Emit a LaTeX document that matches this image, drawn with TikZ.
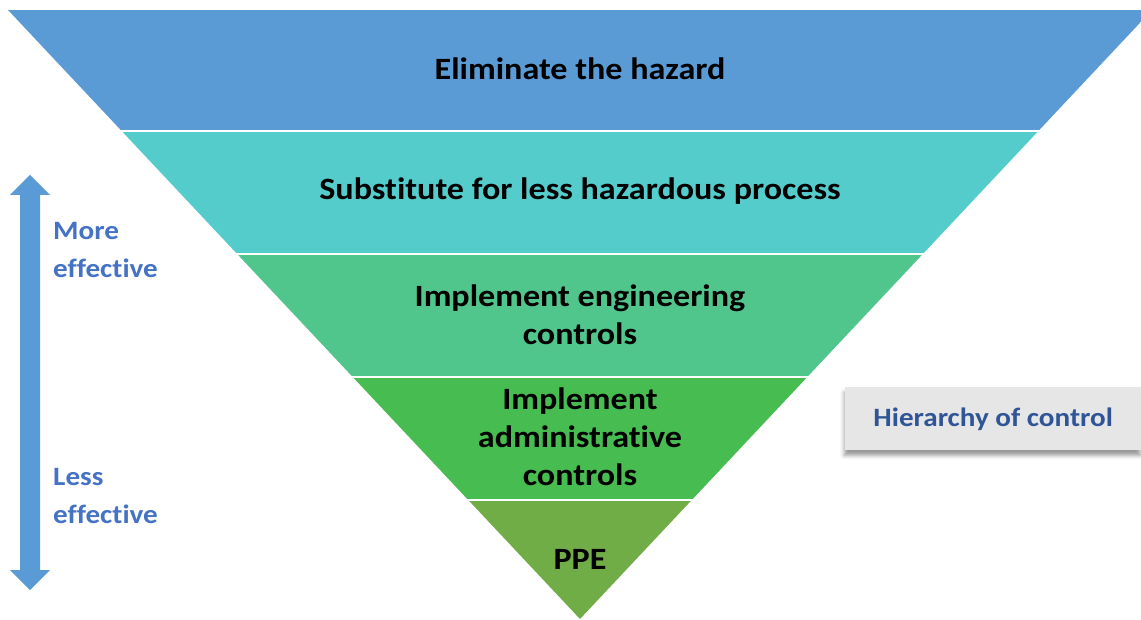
\documentclass[tikz,border=0pt]{standalone}
\usepackage{fontspec}
\setmainfont[FakeStretch=1.1, Ligatures=NoCommon]{Carlito}
\usepackage{tikz}
\usetikzlibrary{positioning, shadows.blur}
\definecolor{tierone}{HTML}{5B9BD5}
\definecolor{tiertwo}{HTML}{55CCCC}
\definecolor{tierthree}{HTML}{50C68D}
\definecolor{tierfour}{HTML}{47BC50}
\definecolor{tierfive}{HTML}{70AD47}
\definecolor{scaleblue}{HTML}{4472C4}
\definecolor{tagblue}{HTML}{2F5597}
\definecolor{taggray}{HTML}{E7E6E6}

\begin{document}
\begin{tikzpicture}[x=1pt, y=1pt,
  tiertext/.style={align=center, inner sep=0pt, font=\fontsize{31}{38}\selectfont\bfseries},
  scaletext/.style={align=left, anchor=west, inner sep=0pt, text=scaleblue, font=\fontsize{26.5}{38}\selectfont\bfseries},
  gap/.style={white, line width=2.6pt}]
\useasboundingbox (0,0) rectangle (1141,619);
\begin{scope}
\clip (0,0) rectangle (1141,619);
\clip (8,609) -- (1152,609) -- (580,0) -- cycle;
\fill[tierone] (0,488) rectangle (1152,609);
\fill[tiertwo] (0,365) rectangle (1152,488);
\fill[tierthree] (0,242) rectangle (1152,365);
\fill[tierfour] (0,119) rectangle (1152,242);
\fill[tierfive] (0,0) rectangle (1152,119);
\end{scope}
\draw[gap] (100,488) -- (1060,488);
\draw[gap] (100,365) -- (1060,365);
\draw[gap] (100,242) -- (1060,242);
\draw[gap] (100,119) -- (1060,119);

\node[tiertext] (t1) at (580,550) {Eliminate the hazard};
\node[tiertext] (t2) at (580,428) {Substitute for less hazardous process};
\node[tiertext] (t3) at (580,304) {Implement engineering\\controls};
\node[tiertext] (t4) at (580,182) {Implement\\administrative\\controls};
\node[tiertext] (t5) at (580,60) {PPE};

\fill[tierone] (30,444) -- (50,424) -- (40,424) -- (40,49) -- (50,49) -- (30,29)
  -- (10,49) -- (20,49) -- (20,424) -- (10,424) -- cycle;
\node[scaletext] (more) at (53,369) {More\\effective};
\node[scaletext] (less) at (53,123) {Less\\effective};

\node[fill=taggray, anchor=west, minimum width=296pt, minimum height=63pt,
  blur shadow={shadow xshift=-1pt, shadow yshift=-5pt, shadow blur radius=4pt},
  text=tagblue, font=\fontsize{26.5}{30}\selectfont\bfseries] (tag) at (845,200) {Hierarchy of control};
\end{tikzpicture}
\end{document}
